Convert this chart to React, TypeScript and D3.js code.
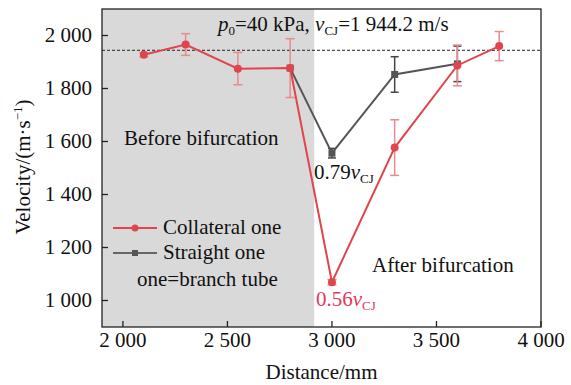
import React from "react";
import * as d3 from "d3";

const distances = [2100, 2300, 2550, 2800, 3000, 3300, 3600, 3800];
const collateral = [1927, 1966, 1875, 1877, 1069, 1577, 1887, 1960];
const collateralErr = [8, 41, 61, 111, 10, 105, 77, 55];
const straightDist = [2800, 3000, 3300, 3600];
const straight = [1877, 1556, 1853, 1893];
const straightErr = [0, 18, 67, 67];
const xTicks = [2000, 2500, 3000, 3500, 4000];
const yTicks = [1000, 1200, 1400, 1600, 1800, 2000];
const vCJ = 1944.2;
const shadeEnd = 2915;

const W = 571, H = 385;
const L = 102, R = 541, T = 9, B = 327;
const FONT = "'Liberation Serif', 'Times New Roman', serif";
const FS = 21;
const SUB = 13;
const RED = "#e0454d";
const RED_ERR = "#e98a8c";
const GRAY = "#555555";

const fmt = (v: number) => {
  const s = String(v);
  return s.length > 3 ? s.slice(0, s.length - 3) + " " + s.slice(-3) : s;
};

export default function App() {
  const x = d3.scaleLinear().domain([1900, 4000]).range([L, R]);
  const y = d3.scaleLinear().domain([900, 2100]).range([B, T]);
  const line = d3.line<[number, number]>().x(d => x(d[0])).y(d => y(d[1]));
  const redPts: [number, number][] = distances.map((d, i) => [d, collateral[i]]);
  const grayPts: [number, number][] = straightDist.map((d, i) => [d, straight[i]]);

  return (
    <svg width={W} height={H} style={{ position: "absolute", left: 0, top: 0, background: "#fff" }} fontFamily={FONT}>
      <rect x={L} y={T} width={x(shadeEnd) - L} height={B - T} fill="#d9d9d9" />
      <line x1={L} x2={R} y1={y(vCJ)} y2={y(vCJ)} stroke="#222" strokeWidth={1} strokeDasharray="3,2" />
      {straightDist.map((d, i) => straightErr[i] > 0 && (
        <g key={"ge" + i} stroke="#444" strokeWidth={1.5}>
          <line x1={x(d)} x2={x(d)} y1={y(straight[i] - straightErr[i])} y2={y(straight[i] + straightErr[i])} />
          <line x1={x(d) - 4} x2={x(d) + 4} y1={y(straight[i] - straightErr[i])} y2={y(straight[i] - straightErr[i])} />
          <line x1={x(d) - 4} x2={x(d) + 4} y1={y(straight[i] + straightErr[i])} y2={y(straight[i] + straightErr[i])} />
        </g>
      ))}
      <path d={line(grayPts) || ""} fill="none" stroke={GRAY} strokeWidth={2} />
      {grayPts.map((p, i) => (
        <rect key={"gm" + i} x={x(p[0]) - 3.5} y={y(p[1]) - 3.5} width={7} height={7} fill={GRAY} />
      ))}
      {distances.map((d, i) => (
        <g key={"re" + i} stroke={RED_ERR} strokeWidth={1.5}>
          <line x1={x(d)} x2={x(d)} y1={y(collateral[i] - collateralErr[i])} y2={y(collateral[i] + collateralErr[i])} />
          <line x1={x(d) - 4.5} x2={x(d) + 4.5} y1={y(collateral[i] - collateralErr[i])} y2={y(collateral[i] - collateralErr[i])} />
          <line x1={x(d) - 4.5} x2={x(d) + 4.5} y1={y(collateral[i] + collateralErr[i])} y2={y(collateral[i] + collateralErr[i])} />
        </g>
      ))}
      <path d={line(redPts) || ""} fill="none" stroke={RED} strokeWidth={2} />
      {redPts.map((p, i) => (
        <circle key={"rm" + i} cx={x(p[0])} cy={y(p[1])} r={4} fill={RED} />
      ))}
      <rect x={L} y={T} width={R - L} height={B - T} fill="none" stroke="#222" strokeWidth={1.3} />
      {xTicks.map(t => (
        <g key={"xt" + t}>
          <line x1={x(t)} x2={x(t)} y1={B} y2={B - 6} stroke="#222" strokeWidth={1.3} />
          <text x={x(t)} y={347} fontSize={FS} textAnchor="middle" fill="#111">{fmt(t)}</text>
        </g>
      ))}
      {yTicks.map(t => (
        <g key={"yt" + t}>
          <line x1={L} x2={L + 6} y1={y(t)} y2={y(t)} stroke="#222" strokeWidth={1.3} />
          <text x={92} y={y(t)} dy="0.33em" fontSize={FS} textAnchor="end" fill="#111">{fmt(t)}</text>
        </g>
      ))}
      <text x={x(2950)} y={379} fontSize={FS} textAnchor="middle" fill="#111">Distance/mm</text>
      <text transform={`translate(30,167) rotate(-90)`} fontSize={FS} textAnchor="middle" fill="#111">
        Velocity/(m·s<tspan dy={-8} fontSize={SUB}>−1</tspan><tspan dy={8}>)</tspan>
      </text>
      <text x={218} y={31} fontSize={FS} fill="#111">
        <tspan fontStyle="italic">p</tspan><tspan fontSize={SUB} dy={4}>0</tspan><tspan dy={-4}>=40 kPa, </tspan>
        <tspan fontStyle="italic">v</tspan><tspan fontSize={SUB} dy={4}>CJ</tspan><tspan dy={-4}>=1 944.2 m/s</tspan>
      </text>
      <text x={124} y={145} fontSize={FS} fill="#111">Before bifurcation</text>
      <text x={372} y={272} fontSize={FS} fill="#111">After bifurcation</text>
      <text x={314} y={179} fontSize={FS} fill="#111">
        0.79<tspan fontStyle="italic">v</tspan><tspan fontSize={SUB} dy={4}>CJ</tspan>
      </text>
      <text x={316} y={306} fontSize={FS} fill="#e8365a">
        0.56<tspan fontStyle="italic">v</tspan><tspan fontSize={SUB} dy={4}>CJ</tspan>
      </text>
      <line x1={113} x2={157} y1={228} y2={228} stroke={RED} strokeWidth={2} />
      <circle cx={135} cy={228} r={3.5} fill={RED} />
      <text x={163} y={234} fontSize={FS} fill="#111">Collateral one</text>
      <line x1={113} x2={157} y1={253} y2={253} stroke="#666" strokeWidth={2} />
      <rect x={132} y={250} width={6} height={6} fill="#555" />
      <text x={163} y={259} fontSize={FS} fill="#111">Straight one</text>
      <text x={137} y={286} fontSize={FS} fill="#111">one=branch tube</text>
    </svg>
  );
}
